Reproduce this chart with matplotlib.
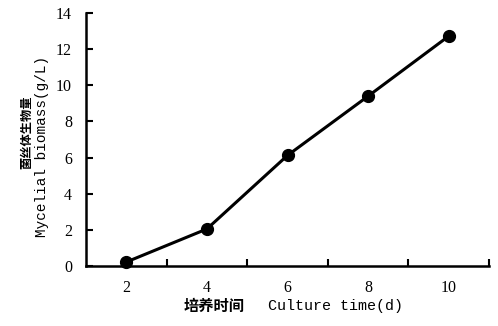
import matplotlib
matplotlib.use("Agg")
import matplotlib.pyplot as plt

days = [2, 4, 6, 8, 10]
biomass = [0.22, 2.05, 6.12, 9.4, 12.72]
x_labels = ["2", "4", "6", "8", "10"]
y_ticks = [0, 2, 4, 6, 8, 10, 12, 14]
x_marks = [3, 5, 7, 9, 11]

fig = plt.figure(figsize=(4.98, 3.26), dpi=100)
ax = fig.add_axes([86/498, 1-266/326, (489-86)/498, (266-13)/326])

ax.plot(days, biomass, color="black", lw=2.2, marker="o", ms=8.5, mfc="black", mec="black", clip_on=False, zorder=3)

ax.set_xlim(1, 11)
ax.set_ylim(0, 14)
for s in ["top", "right"]:
    ax.spines[s].set_visible(False)
for s in ["left", "bottom"]:
    ax.spines[s].set_linewidth(1.8)

serif = ["Liberation Serif", "DejaVu Serif"]
ax.set_xticks(x_marks)
ax.set_xticklabels([])
ax.tick_params(axis="x", which="major", direction="in", length=5, width=1.5)
ax.set_xticks(days, minor=True)
ax.set_xticklabels(x_labels, minor=True, fontfamily=serif, fontsize=11.5)
ax.tick_params(axis="x", which="minor", length=0, pad=10)

ax.set_yticks(y_ticks)
ax.set_yticklabels([str(v) for v in y_ticks], fontfamily=serif, fontsize=11.5)
ax.tick_params(axis="y", direction="in", length=5, width=1.5, pad=10)

mono = ["Liberation Mono", "DejaVu Sans Mono"]
cjk = ["Noto Sans CJK SC"]
fig.text(214/498, 1-306/326, "培养时间", ha="center", va="center",
         fontfamily=cjk, fontsize=11, fontweight="bold")
fig.text(335/498, 1-306/326, "Culture time(d)", ha="center", va="center",
         fontfamily=mono, fontsize=10.8)
fig.text(27/498, 1-132/326, "菌丝体生物量", ha="center", va="center", rotation=90,
         fontfamily=cjk, fontsize=8.8, fontweight="bold")
fig.text(42/498, 1-146/326, "Mycelial biomass(g/L)", ha="center", va="center", rotation=90,
         fontfamily=mono, fontsize=10.4)

fig.savefig("out.png", dpi=100)
